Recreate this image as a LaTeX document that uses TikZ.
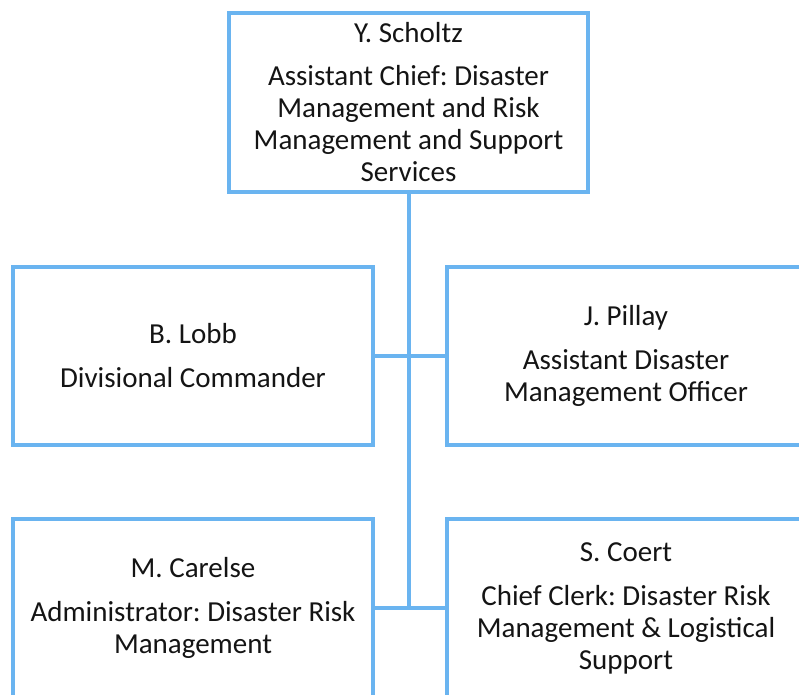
\documentclass[tikz,border=0pt]{standalone}
\usepackage{fontspec}
\setmainfont{Carlito}
\definecolor{orgblue}{RGB}{106,180,240}
\frenchspacing
\begin{document}
\begin{tikzpicture}[x=1pt,y=-1pt,
  post/.style={draw=orgblue, line width=4pt, align=center, inner sep=0pt,
    minimum height=178pt, text=black!92,
    font=\fontsize{29}{32}\selectfont},
  link/.style={draw=orgblue, line width=4pt}]
\useasboundingbox (0,0) rectangle (799,694);
\clip (0,0) rectangle (799,694);

\node[post, minimum width=359pt, minimum height=179pt] (1) at (408.5,102.5)
  {Y. Scholtz\\[11pt]Assistant Chief: Disaster\\Management and Risk\\Management and Support\\Services};
\node[post, minimum width=360pt] (2) at (193,356) {B. Lobb\\[12pt]Divisional Commander};
\node[post, minimum width=358pt] (3) at (626,356) {J. Pillay\\[12pt]Assistant Disaster\\Management Officer};
\node[post, minimum width=360pt] (4) at (193,608) {M. Carelse\\[12pt]Administrator: Disaster Risk\\Management};
\node[post, minimum width=358pt] (5) at (626,608) {S. Coert\\[12pt]Chief Clerk: Disaster Risk\\Management \& Logistical\\Support};

\path[link] (2) -- (3);
\path[link] (4) -- (5);
\path[link] (1.south) -- (1.south |- 4.east);
\end{tikzpicture}
\end{document}
